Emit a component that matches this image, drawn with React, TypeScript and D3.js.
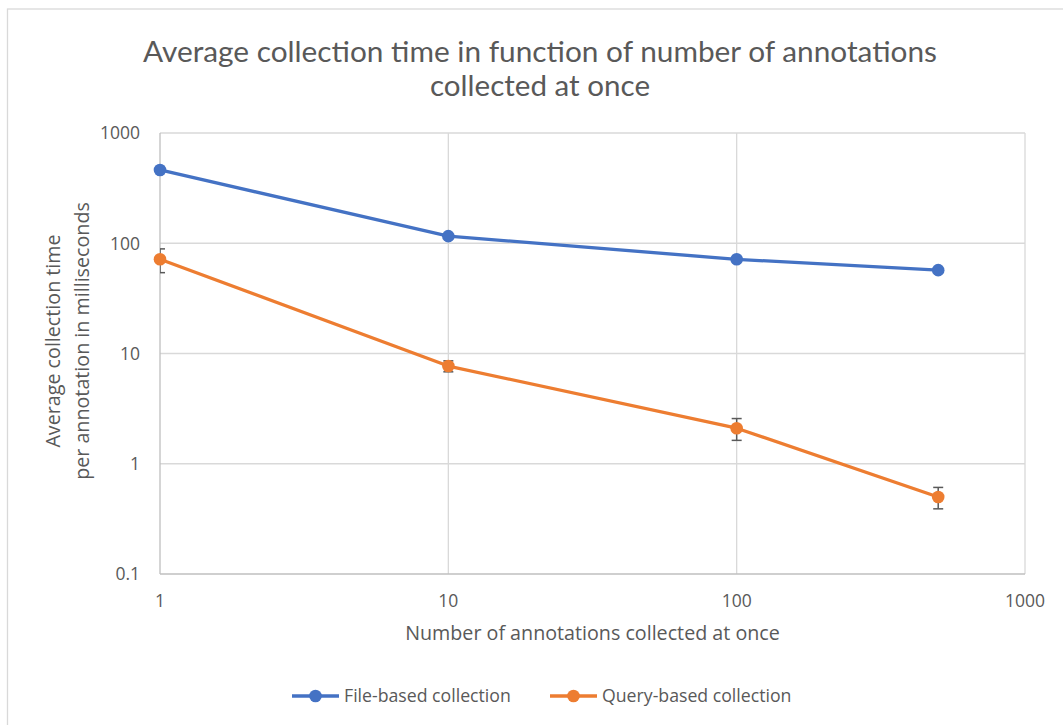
import React from "react";
import * as d3 from "d3";

// values
const xValues = [1, 10, 100, 500];
const fileBased = [462, 116, 71.5, 57];
const queryBased = [71.5, 7.7, 2.1, 0.5];
const queryError = [17.4, 0.88, 0.47, 0.11];
const xTicks = [1, 10, 100, 1000];
const yTicks = [0.1, 1, 10, 100, 1000];

const seriesNames = ["File-based collection", "Query-based collection"];
const colors = ["#4472C4", "#ED7D31"];

const W = 1063;
const H = 725;
const margin = { left: 160, right: 1025, top: 133, bottom: 574 };
const textColor = "#595959";
const font = "'Open Sans', sans-serif";

const App: React.FC = () => {
  const x = d3.scaleLog().domain([1, 1000]).range([margin.left, margin.right]);
  const y = d3.scaleLog().domain([0.1, 1000]).range([margin.bottom, margin.top]);

  const line = d3
    .line<number>()
    .x((_, i) => x(xValues[i]))
    .y((d) => y(d));

  const series = [fileBased, queryBased];

  return (
    <svg
      width={W}
      height={H}
      style={{ position: "absolute", left: 0, top: 0, background: "#fff" }}
    >
      <defs>
        <clipPath id="plot">
          <rect
            x={margin.left}
            y={margin.top}
            width={margin.right - margin.left}
            height={margin.bottom - margin.top}
          />
        </clipPath>
      </defs>

      {/* chart frame */}
      <rect x={7.5} y={9} width={W + 10} height={H + 10} fill="none" stroke="#d9d9d9" strokeWidth={1.3} />

      {/* title */}
      <g fill={textColor} fontFamily="Lato, 'Open Sans', sans-serif" fontSize={29} textAnchor="middle">
        <text x={540} y={62} textLength={794} lengthAdjust="spacingAndGlyphs">
          Average collection time in function of number of annotations
        </text>
        <text x={540} y={96} textLength={220} lengthAdjust="spacingAndGlyphs">
          collected at once
        </text>
      </g>

      {/* grid */}
      <g stroke="#d9d9d9" strokeWidth={1.3}>
        {yTicks.slice(1).map((t) => (
          <line key={"gy" + t} x1={margin.left} x2={margin.right} y1={y(t)} y2={y(t)} />
        ))}
        {xTicks.slice(1).map((t) => (
          <line key={"gx" + t} x1={x(t)} x2={x(t)} y1={margin.top} y2={margin.bottom} />
        ))}
      </g>
      <g stroke="#bfbfbf" strokeWidth={1.3}>
        <line x1={margin.left} x2={margin.left} y1={margin.top} y2={margin.bottom} />
        <line x1={margin.left} x2={margin.right} y1={margin.bottom} y2={margin.bottom} />
      </g>

      {/* tick labels */}
      <g fill={textColor} fontFamily={font} fontSize={17.5}>
        {yTicks.map((t) => (
          <text key={"ty" + t} x={140} y={y(t) + 6.3} textAnchor="end">
            {d3.format("~g")(t)}
          </text>
        ))}
        {xTicks.map((t) => (
          <text key={"tx" + t} x={x(t)} y={607} textAnchor="middle">
            {d3.format("~g")(t)}
          </text>
        ))}
      </g>

      {/* axis titles */}
      <g fill={textColor} fontFamily={font} fontSize={19.7} textAnchor="middle">
        <text x={(margin.left + margin.right) / 2} y={640}>
          Number of annotations collected at once
        </text>
        <text transform="translate(60,341) rotate(-90)">Average collection time</text>
        <text transform="translate(89,341) rotate(-90)">per annotation in milliseconds</text>
      </g>

      {/* error bars */}
      <g clipPath="url(#plot)" stroke="#595959" strokeWidth={1.5}>
        {queryBased.map((v, i) => {
          const cx = x(xValues[i]);
          const top = y(v + queryError[i]);
          const bot = y(v - queryError[i]);
          return (
            <g key={"e" + i}>
              <line x1={cx} x2={cx} y1={top} y2={bot} />
              <line x1={cx - 5} x2={cx + 5} y1={top} y2={top} />
              <line x1={cx - 5} x2={cx + 5} y1={bot} y2={bot} />
            </g>
          );
        })}
      </g>

      {/* series */}
      {series.map((s, k) => (
        <g key={"s" + k}>
          <path d={line(s) || ""} fill="none" stroke={colors[k]} strokeWidth={3.3} strokeLinejoin="round" />
          {s.map((v, i) => (
            <circle key={i} cx={x(xValues[i])} cy={y(v)} r={6.3} fill={colors[k]} />
          ))}
        </g>
      ))}

      {/* legend */}
      <g fontFamily={font} fontSize={17.7} fill={textColor}>
        {seriesNames.map((name, k) => {
          const lx = k === 0 ? 292 : 550;
          return (
            <g key={"l" + k}>
              <line x1={lx} x2={lx + 47} y1={696} y2={696} stroke={colors[k]} strokeWidth={3.3} />
              <circle cx={lx + 23.5} cy={696} r={6.3} fill={colors[k]} />
              <text x={lx + 52} y={702}>
                {name}
              </text>
            </g>
          );
        })}
      </g>
    </svg>
  );
};

export default App;
